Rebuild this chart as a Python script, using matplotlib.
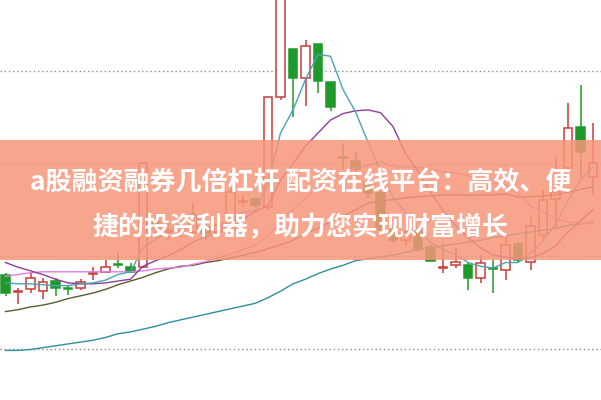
import matplotlib
matplotlib.use('Agg')
import matplotlib.pyplot as plt
from matplotlib.patches import Rectangle
import numpy as np

plt.rcParams['font.family'] = ['Noto Sans CJK SC', 'DejaVu Sans']

# daily candles (price)
opens  = [9.80, 9.61, 9.64, 9.62, 9.73, 9.65, 9.65, 9.81, 9.83, 9.91, 9.88, 9.88,
          10.37, 10.26, 10.26, 10.26, 10.31, 10.26, 10.28, 10.58, 10.62, 10.53, 11.72, 12.24,
          11.92, 12.29, 11.88, 11.07, 11.03, 10.80, 10.68, 10.28, 10.17, 10.28, 10.10, 9.87,
          9.90, 9.90, 9.76, 9.87, 9.85, 10.13, 9.94, 10.23, 10.62, 10.95, 11.40, 10.85]
highs  = [9.82, 9.65, 9.82, 9.76, 9.76, 9.69, 9.75, 9.88, 9.96, 10.03, 9.93, 11.01,
          10.47, 10.37, 10.41, 10.57, 10.37, 10.44, 10.74, 10.66, 10.64, 11.72, 13.25, 12.24,
          12.34, 12.29, 11.88, 11.22, 11.12, 10.85, 10.71, 10.31, 10.34, 10.30, 10.12, 10.14,
          10.09, 9.93, 10.01, 9.96, 10.23, 10.15, 10.42, 10.71, 11.07, 11.65, 11.85, 11.44]
lows   = [9.57, 9.48, 9.60, 9.54, 9.57, 9.58, 9.63, 9.74, 9.82, 9.87, 9.82, 9.87,
          10.20, 10.17, 10.20, 10.22, 10.17, 10.22, 10.26, 10.53, 10.52, 10.50, 11.69, 11.50,
          11.62, 11.76, 11.57, 10.93, 10.84, 10.63, 10.25, 10.14, 10.12, 10.04, 9.95, 9.82,
          9.87, 9.63, 9.71, 9.60, 9.74, 9.94, 9.85, 10.20, 10.31, 10.93, 10.84, 10.66]
closes = [9.60, 9.62, 9.76, 9.72, 9.65, 9.64, 9.72, 9.82, 9.88, 9.90, 9.83, 11.01,
          10.30, 10.27, 10.33, 10.44, 10.25, 10.34, 10.69, 10.60, 10.55, 11.72, 13.09, 11.92,
          12.27, 11.89, 11.61, 11.06, 10.94, 10.68, 10.28, 10.17, 10.26, 10.08, 9.95, 9.88,
          9.94, 9.76, 9.93, 9.86, 10.12, 9.96, 10.33, 10.61, 10.69, 11.38, 11.12, 11.01]

# moving averages as drawn on the chart
ma5 = [9.71, 9.70, 9.70, 9.69, 9.68, 9.68, 9.70, 9.71, 9.74, 9.80, 9.83, 10.09,
       10.18, 10.26, 10.35, 10.47, 10.31, 10.33, 10.41, 10.47, 10.49, 10.78, 11.33, 11.58,
       11.91, 12.18, 12.16, 11.80, 11.56, 11.23, 10.92, 10.63, 10.47, 10.29, 10.15, 10.07,
       10.02, 9.93, 9.89, 9.87, 9.93, 9.93, 10.03, 10.17, 10.34, 10.60, 10.82, 10.96]
ma10 = [9.93, 9.88, 9.84, 9.80, 9.75, 9.71, 9.70, 9.70, 9.71, 9.73, 9.75, 9.89,
        9.95, 10.00, 10.07, 10.15, 10.21, 10.25, 10.34, 10.40, 10.48, 10.55, 10.82, 11.00,
        11.19, 11.33, 11.47, 11.54, 11.57, 11.58, 11.55, 11.40, 11.11, 10.92, 10.69, 10.49,
        10.33, 10.20, 10.09, 10.01, 9.99, 9.97, 9.98, 10.03, 10.11, 10.26, 10.38, 10.50]
ma20 = [9.78, 9.80, 9.82, 9.83, 9.83, 9.83, 9.83, 9.83, 9.83, 9.83, 9.83, 9.84,
        9.86, 9.87, 9.88, 9.91, 9.94, 9.98, 10.02, 10.07, 10.12, 10.22, 10.39, 10.50,
        10.63, 10.74, 10.83, 10.90, 10.95, 10.98, 11.02, 10.97, 10.96, 10.96, 10.94, 10.91,
        10.90, 10.87, 10.83, 10.79, 10.77, 10.68, 10.54, 10.48, 10.40, 10.37, 10.35, 10.35]
ma30 = [9.40, 9.42, 9.45, 9.47, 9.50, 9.54, 9.57, 9.60, 9.64, 9.69, 9.73, 9.77,
        9.82, 9.86, 9.89, 9.90, 9.93, 9.95, 9.98, 10.01, 10.04, 10.08, 10.12, 10.17,
        10.24, 10.30, 10.37, 10.43, 10.50, 10.57, 10.60, 10.61, 10.63, 10.64, 10.65, 10.66,
        10.66, 10.66, 10.66, 10.66, 10.67, 10.64, 10.64, 10.65, 10.66, 10.69, 10.72, 10.75]
ma120 = [8.98, 8.98, 8.99, 9.01, 9.03, 9.05, 9.07, 9.09, 9.12, 9.16, 9.18, 9.21,
         9.24, 9.28, 9.31, 9.34, 9.37, 9.40, 9.43, 9.46, 9.49, 9.55, 9.62, 9.70,
         9.75, 9.81, 9.86, 9.90, 9.95, 9.97, 9.99, 10.01, 10.04, 10.07, 10.09, 10.11,
         10.13, 10.15, 10.17, 10.20, 10.22, 10.24, 10.26, 10.28, 10.30, 10.33, 10.35, 10.37]

grid_levels = [9, 10, 11, 12]
title = ['a股融资融券几倍杠杆 配资在线平台：高效、便', '捷的投资利器，助力您实现财富增长']

red = '#cc3a3a'
green = '#1f9a2a'

o = np.array(opens); h = np.array(highs); l = np.array(lows); c = np.array(closes)
x = np.arange(len(o))
up = c >= o
top = np.maximum(o, c)
bot = np.minimum(o, c)

fig = plt.figure(figsize=(6.01, 4.0), dpi=100)
ax = fig.add_axes([0, 0, 1, 1])

for lev in grid_levels:
    ax.axhline(lev, color='#8c8c8c', lw=1.0, linestyle=(0, (1, 2)), zorder=1)

cols = np.where(up, red, green)
ax.vlines(x, top, h, colors=cols, lw=1.1, zorder=2)
ax.vlines(x, l, bot, colors=cols, lw=1.1, zorder=2)
ax.bar(x[up], (top - bot)[up], bottom=bot[up], width=0.66,
       facecolor='white', edgecolor=red, linewidth=1.1, zorder=3)
ax.bar(x[~up], (top - bot)[~up], bottom=bot[~up], width=0.66,
       facecolor=green, edgecolor=green, linewidth=1.1, zorder=3)

ax.plot(x, ma120, color='#2f8e9e', lw=1.0, zorder=4)
ax.plot(x, ma30, color='#5c5a2e', lw=1.0, zorder=4)
ax.plot(x, ma20, color='#e07ee0', lw=1.0, zorder=4)
ax.plot(x, ma10, color='#8a3e9a', lw=1.0, zorder=4)
ax.plot(x, ma5, color='#4aa3b6', lw=1.0, zorder=4)

ax.set_xlim(-0.44, 47.64)
ax.set_ylim(8.444, 12.768)
for s in ax.spines.values():
    s.set_visible(False)
ax.set_xticks([])
ax.set_yticks([])

# title banner
ax.add_patch(Rectangle((0, 0.35), 1, 0.30, transform=ax.transAxes,
                       facecolor='#f7967a', alpha=0.85, edgecolor='none', zorder=5))
ax.text(0.5, 0.543, title[0], transform=ax.transAxes, ha='center', va='center',
        fontsize=18.7, fontweight='bold', color='white', zorder=6)
ax.text(0.5, 0.432, title[1], transform=ax.transAxes, ha='center', va='center',
        fontsize=18.7, fontweight='bold', color='white', zorder=6)

fig.savefig('out.png', dpi=100)
